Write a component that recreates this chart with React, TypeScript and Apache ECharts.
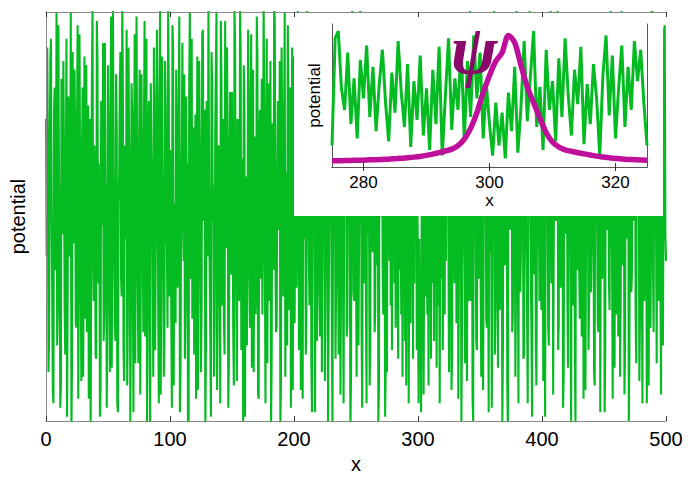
import React, { useEffect, useRef } from "react";
import * as echarts from "echarts";

// Random potential at integer x = 0..500
const potential: number[] = [
  72, 88, 15, 64, 90, 33, 8, 79, 55, 21, 93, 47, 12, 68, 85, 30, 60, 5, 77, 41, 96, 18, 53, 83, 26,
  70, 9, 91, 37, 62, 14, 86, 49, 24, 75, 58, 3, 81, 44, 66, 19, 94, 35, 57, 11, 73, 89, 28, 50, 7,
  84, 39, 63, 16, 97, 45, 22, 71, 6, 59, 87, 32, 78, 13, 52, 92, 27, 67, 4, 80, 42, 61, 17, 95, 36,
  56, 10, 82, 48, 69, 23, 90, 31, 76, 2, 64, 43, 88, 20, 54, 74, 8, 99, 38, 60, 14, 85, 46, 25, 79,
  65, 29, 93, 12, 51, 83, 34, 71, 6, 58, 89, 40, 18, 77, 62, 3, 96, 44, 27, 70, 53, 9, 86, 35, 68,
  15, 91, 49, 74, 22, 63, 98, 37, 5, 80, 57, 26, 84, 11, 66, 42, 94, 30, 72, 19, 55, 88, 7, 61, 39,
  78, 24, 97, 46, 13, 69, 33, 87, 52, 4, 75, 59, 21, 92, 41, 67, 16, 83, 50, 28, 95, 10, 64, 36, 81,
  47, 73, 8, 90, 56, 31, 85, 18, 62, 99, 43, 25, 76, 54, 3, 88, 38, 70, 14, 60, 93, 29, 79, 45, 11,
  86, 57, 34, 97, 20, 66, 48, 9, 82, 71, 27, 94, 40, 63, 17, 77, 52, 6, 89, 35, 68, 23, 91, 44, 74,
  13, 58, 84, 30, 96, 49, 2, 72, 61, 37, 87, 19, 65, 42, 80, 8, 55, 93, 26, 76, 50, 15, 98, 33, 69,
  41, 83, 21, 62, 90, 7, 54, 78, 32, 95, 46, 12, 73, 59, 86, 24, 67, 39, 4, 81, 56, 92, 28, 64, 17,
  15, 95, 40, 30, 20, 48, 35, 25, 82, 18, 38, 52, 72, 60, 78, 55, 68, 84, 50, 26, 40, 18, 35, 48, 20,
  30, 45, 38, 52, 70, 42, 32, 95, 56, 82, 60, 76, 90, 22, 44, 16, 30, 48, 64, 36, 20, 85, 70, 88, 82,
  15,
  63, 11, 87, 45, 70, 26, 93, 38, 58, 4, 79, 51, 17, 84, 66, 31, 97, 43, 9, 74, 57, 22, 89, 36, 68,
  14, 81, 48, 92, 27, 62, 6, 77, 53, 35, 86, 19, 71, 44, 96, 29, 59, 2, 83, 40, 65, 12, 90, 47, 75,
  24, 56, 88, 33, 69, 8, 94, 42, 61, 18, 80, 50, 28, 73, 97, 37, 5, 66, 85, 21, 54, 91, 31, 77, 46,
  13, 70, 58, 87, 25, 63, 99, 39, 10, 82, 49, 72, 20, 95, 34, 60, 7, 78, 52, 89, 16, 67, 43, 84, 30,
  74, 3, 57, 92, 38, 65, 23, 86, 48, 11, 79, 61, 32, 96, 44, 70, 15, 88, 54, 26, 81, 6, 68, 41, 93,
  19, 59, 76, 35, 90, 50, 9, 73, 62, 28, 85, 46, 14, 97, 39, 66, 21, 80, 55, 4, 87, 33, 71, 49, 94,
  17, 63, 83, 27, 58, 8, 91, 42, 74, 36, 12, 79, 52, 98, 24, 67, 45, 86, 31, 60, 10, 76, 55, 93, 40,
];

// Random potential at half-integer x = 0.5..499.5
const potentialMid: number[] = [
  41, 67, 23, 85, 52, 11, 74, 38, 96, 29, 58, 7, 81, 46, 63, 19, 90, 34, 71, 55, 2, 87, 44, 68, 25,
  93, 36, 60, 13, 79, 50, 27, 84, 65, 9, 72, 40, 97, 31, 54, 18, 86, 62, 5, 76, 48, 22, 89, 57, 33,
  70, 15, 95, 43, 61, 26, 82, 8, 53, 78, 37, 99, 20, 66, 45, 12, 88, 59, 30, 73, 6, 91, 49, 64, 17,
  83, 39, 56, 24, 94, 47, 3, 69, 35, 80, 58, 14, 77, 42, 92, 28, 63, 10, 86, 51, 21, 75, 44, 97, 32,
  60, 7, 88, 53, 26, 71, 39, 95, 16, 64, 48, 82, 29, 57, 4, 79, 36, 90, 62, 19, 73, 45, 11, 85, 54,
  30, 92, 67, 2, 76, 41, 58, 23, 87, 49, 14, 70, 96, 34, 61, 8, 81, 52, 27, 94, 43, 66, 18, 78, 37,
  55, 12, 89, 46, 72, 31, 98, 20, 63, 84, 5, 59, 40, 77, 25, 91, 50, 15, 68, 35, 86, 9, 74, 57, 28,
  99, 42, 65, 17, 80, 53, 3, 71, 38, 93, 24, 60, 47, 85, 13, 69, 32, 96, 56, 21, 78, 44, 7, 88, 62,
  26, 75, 51, 90, 36, 11, 67, 83, 45, 19, 97, 58, 30, 73, 6, 87, 49, 64, 22, 81, 39, 94, 15, 55, 70,
  33, 86, 4, 61, 79, 27, 52, 92, 18, 68, 43, 76, 10, 95, 37, 57, 84, 23, 66, 48, 1, 72, 89, 31, 63,
  14, 80, 46, 98, 25, 59, 35, 74, 8, 91, 53, 20, 69, 42, 87, 29, 62, 96, 12, 77, 50, 38, 83, 5, 66,
  90, 55, 80, 62, 75, 85, 70, 58, 45, 66, 88, 28, 14, 33, 22, 12, 30, 8, 90, 62, 86, 74, 92, 80, 58,
  8, 15, 6, 25, 10, 88, 64, 28, 12, 40, 18, 35, 50, 68, 84, 58, 72, 8, 92, 78, 55, 28, 40, 60, 45,
  44, 92, 18, 70, 35, 85, 56, 9, 78, 61, 27, 96, 40, 73, 13, 88, 52, 31, 66, 4, 83, 47, 20, 94, 58,
  36, 79, 11, 63, 90, 25, 54, 87, 42, 7, 71, 99, 30, 59, 16, 82, 48, 68, 22, 93, 39, 76, 2, 64, 51,
  85, 28, 57, 14, 97, 45, 73, 33, 60, 89, 19, 66, 41, 8, 78, 53, 24, 91, 37, 70, 12, 86, 49, 62, 29,
  95, 43, 5, 74, 58, 21, 88, 35, 67, 10, 81, 52, 98, 26, 63, 40, 77, 15, 92, 46, 31, 69, 84, 3, 56,
  72, 18, 90, 38, 61, 27, 83, 50, 9, 75, 44, 96, 20, 65, 33, 87, 55, 12, 79, 48, 24, 93, 60, 36, 70,
  6, 84, 47, 68, 29, 99, 41, 57, 16, 80, 53, 23, 91, 34, 74, 62, 10, 86, 45, 77, 19, 64, 37, 95, 52,
  28, 71, 89, 13, 58, 42, 94, 31, 66, 8, 82, 49, 25, 97, 39, 73, 54, 17, 88, 60, 35, 78, 21, 92, 46,
];

// Wavefunction |psi| at x = 275..325
const psiStart = 275;
const psi: number[] = [
  4.3, 4.4, 4.5, 4.6, 4.7, 4.8, 5.0, 5.1, 5.3, 5.5, 5.8, 6.1, 6.5, 6.9, 7.4, 8.1, 9.0, 10.0, 11.2, 12.5,
  15, 19.5, 27, 38, 52, 64, 74, 80, 92, 87, 71, 56, 45, 34, 24, 17.5, 14, 12, 11, 10,
  9.2, 8.4, 7.6, 7.0, 6.4, 6.0, 5.6, 5.3, 5.1, 4.9, 4.8,
];

const mainTicks = [0, 100, 200, 300, 400, 500];
const insetTicks = [280, 300, 320];

const GREEN = "#05bb22";
const MAGENTA = "#bf109b";
const FONT = "Liberation Sans";

export default function App() {
  const ref = useRef<HTMLDivElement>(null);
  useEffect(() => {
    if (!ref.current) return;
    const chart = echarts.init(ref.current, null, { renderer: "svg" });
    const frame = { lineStyle: { color: "#888", width: 1 } };
    const insetFrame = { lineStyle: { color: "#555", width: 1 } };
    const potData: number[][] = [];
    potential.forEach((v, i) => {
      potData.push([i, v]);
      if (i < potentialMid.length) potData.push([i + 0.5, potentialMid[i]]);
    });
    chart.setOption({
      animation: false,
      grid: [
        { left: 46, right: 27, top: 12, bottom: 56 },
        { left: 332, right: 46, top: 24, bottom: 312 },
      ],
      graphic: [
        {
          type: "rect",
          z: 3,
          shape: { x: 294, y: 13, width: 369, height: 203 },
          style: { fill: "#fff" },
        },
        {
          type: "text",
          z: 7,
          x: 474,
          y: 49,
          style: {
            text: "ψ",
            fill: "#8a0a6c",
            fontFamily: "Liberation Serif",
            fontStyle: "italic",
            fontWeight: "bold",
            fontSize: 70,
            align: "center",
            verticalAlign: "middle",
          },
        },
      ],
      xAxis: [
        {
          gridIndex: 0, type: "value", min: 0, max: 500, interval: 100, z: 4,
          axisLine: { show: true, ...frame },
          axisTick: { show: true, inside: true, length: 5, lineStyle: { color: "#333" }, customValues: mainTicks },
          axisLabel: { color: "#000", fontSize: 20, fontFamily: FONT, margin: 8, customValues: mainTicks },
          splitLine: { show: false },
          name: "x", nameLocation: "middle", nameGap: 30,
          nameTextStyle: { color: "#000", fontSize: 20, fontFamily: FONT },
        },
        {
          gridIndex: 0, type: "value", position: "top", min: 0, max: 500, interval: 100, z: 4,
          axisLine: { show: true, ...frame },
          axisTick: { show: true, inside: true, length: 5, lineStyle: { color: "#333" } },
          axisLabel: { show: false },
          splitLine: { show: false },
        },
        {
          gridIndex: 1, type: "value", min: 275, max: 325, z: 5,
          axisLine: { show: true, ...insetFrame },
          axisTick: { show: true, inside: true, length: 4, lineStyle: { color: "#333" }, customValues: insetTicks },
          axisLabel: { color: "#000", fontSize: 17, fontFamily: FONT, margin: 7, customValues: insetTicks },
          splitLine: { show: false },
          name: "x", nameLocation: "middle", nameGap: 25,
          nameTextStyle: { color: "#000", fontSize: 17, fontFamily: FONT },
        },
        {
          gridIndex: 1, type: "value", position: "top", min: 275, max: 325, z: 5,
          axisLine: { show: true, ...insetFrame },
          axisTick: { show: true, inside: true, length: 4, lineStyle: { color: "#333" }, customValues: insetTicks },
          axisLabel: { show: false },
          splitLine: { show: false },
        },
      ],
      yAxis: [
        {
          gridIndex: 0, type: "value", min: 4, max: 96, z: 4,
          axisLine: { show: true, ...frame },
          axisTick: { show: false }, axisLabel: { show: false }, splitLine: { show: false },
          name: "potential", nameLocation: "middle", nameGap: 18,
          nameTextStyle: { color: "#000", fontSize: 20, fontFamily: FONT },
        },
        {
          gridIndex: 0, type: "value", position: "right", min: 4, max: 96, z: 4,
          axisLine: { show: true, ...frame },
          axisTick: { show: false }, axisLabel: { show: false }, splitLine: { show: false },
        },
        {
          gridIndex: 1, type: "value", min: 0, max: 100, z: 5,
          axisLine: { show: true, ...insetFrame },
          axisTick: { show: false }, axisLabel: { show: false }, splitLine: { show: false },
          name: "potential", nameLocation: "middle", nameGap: 9,
          nameTextStyle: { color: "#000", fontSize: 17, fontFamily: FONT },
        },
        {
          gridIndex: 1, type: "value", position: "right", min: 0, max: 100, z: 5,
          axisLine: { show: true, ...insetFrame },
          axisTick: { show: false }, axisLabel: { show: false }, splitLine: { show: false },
        },
      ],
      series: [
        {
          type: "line", xAxisIndex: 0, yAxisIndex: 0, z: 2, clip: true,
          data: potData,
          showSymbol: false, symbol: "none",
          lineStyle: { color: GREEN, width: 2.1, join: "bevel" },
        },
        {
          type: "line", xAxisIndex: 2, yAxisIndex: 2, z: 6, clip: true,
          data: potData.filter((p) => p[0] >= 275 && p[0] <= 325),
          showSymbol: false, symbol: "none",
          lineStyle: { color: GREEN, width: 3, join: "bevel" },
        },
        {
          type: "line", xAxisIndex: 2, yAxisIndex: 2, z: 6,
          data: psi.map((v, i) => [psiStart + i, v]),
          showSymbol: false, symbol: "none", smooth: 0.3,
          lineStyle: { color: MAGENTA, width: 5.5 },
        },
      ],
    });
    return () => chart.dispose();
  }, []);
  return (
    <div
      ref={ref}
      style={{ position: "fixed", left: 0, top: 0, width: 693, height: 479, background: "#fff" }}
    />
  );
}
